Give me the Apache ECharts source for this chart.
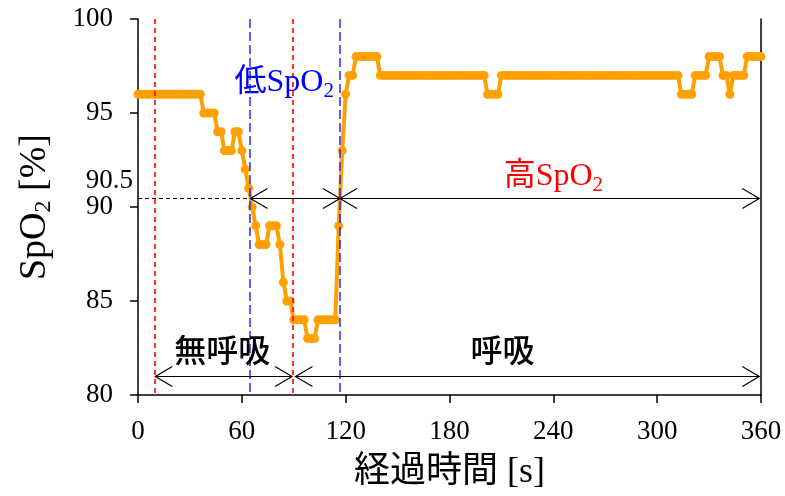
<!DOCTYPE html>
<html>
<head>
<meta charset="utf-8">
<script src="https://cdn.jsdelivr.net/npm/echarts@6/dist/echarts.min.js"></script>
<style>
  html, body { margin: 0; padding: 0; background: #ffffff; }
  #chart { width: 785px; height: 496px; }
</style>
</head>
<body>
<div id="chart"></div>
<script>
// Elapsed time of each SpO2 sample [s]
const timeSec = [
  0, 2, 4, 6, 8, 10, 12, 14, 16, 18,
  20, 22, 24, 26, 28, 30, 32, 34, 36, 38,
  40, 42, 44, 46, 48, 50, 52, 54, 56, 58,
  60, 62, 64, 66, 68, 70, 72, 74, 76, 78,
  80, 82, 84, 86, 88, 90, 92, 94, 96, 98,
  100, 102, 104, 106, 108, 110, 112, 114, 116, 118,
  120, 122, 124, 126, 128, 130, 132, 134, 136, 138,
  140, 142, 144, 146, 148, 150, 152, 154, 156, 158,
  160, 162, 164, 166, 168, 170, 172, 174, 176, 178,
  180, 182, 184, 186, 188, 190, 192, 194, 196, 198,
  200, 202, 204, 206, 208, 210, 212, 214, 216, 218,
  220, 222, 224, 226, 228, 230, 232, 234, 236, 238,
  240, 242, 244, 246, 248, 250, 252, 254, 256, 258,
  260, 262, 264, 266, 268, 270, 272, 274, 276, 278,
  280, 282, 284, 286, 288, 290, 292, 294, 296, 298,
  300, 302, 304, 306, 308, 310, 312, 314, 316, 318,
  320, 322, 324, 326, 328, 330, 332, 334, 336, 338,
  340, 342, 344, 346, 348, 350, 352, 354, 356, 358,
  360
];

// SpO2 readings [%]
const spo2 = [
  96, 96, 96, 96, 96, 96, 96, 96, 96, 96,
  96, 96, 96, 96, 96, 96, 96, 96, 96, 95,
  95, 95, 95, 94, 94, 93, 93, 93, 94, 94,
  93, 92, 91, 90, 89, 88, 88, 88, 89, 89,
  89, 88, 86, 85, 85, 84, 84, 84, 84, 83,
  83, 83, 84, 84, 84, 84, 84, 84, 89, 93,
  96, 97, 97, 98, 98, 98, 98, 98, 98, 98,
  97, 97, 97, 97, 97, 97, 97, 97, 97, 97,
  97, 97, 97, 97, 97, 97, 97, 97, 97, 97,
  97, 97, 97, 97, 97, 97, 97, 97, 97, 97,
  97, 96, 96, 96, 96, 97, 97, 97, 97, 97,
  97, 97, 97, 97, 97, 97, 97, 97, 97, 97,
  97, 97, 97, 97, 97, 97, 97, 97, 97, 97,
  97, 97, 97, 97, 97, 97, 97, 97, 97, 97,
  97, 97, 97, 97, 97, 97, 97, 97, 97, 97,
  97, 97, 97, 97, 97, 97, 97, 96, 96, 96,
  96, 97, 97, 97, 97, 98, 98, 98, 98, 97,
  97, 96, 97, 97, 97, 97, 98, 98, 98, 98,
  98
];

// Start / end of breath holding [s]
const apneaMarks = [10, 89.5];
// Times where SpO2 crosses the low threshold [s]
const lowSpO2Marks = [65, 116.7];
// Low-SpO2 threshold [%]
const threshold = 90.5;

// Double-headed span arrows: [from s, to s, at SpO2 %]
const spanFrom = [10, 91, 65, 116.7];
const spanTo = [89, 359, 116.7, 359];
const spanLevel = [81, 81, 90.5, 90.5];

// Phase captions and their anchor points
const phaseText = ['無呼吸', '呼吸'];
const phaseX = [48.7, 210.6];
const phaseY = [82.4, 82.4];

// SpO2 band captions: prefix, colour, anchor points
const bandPrefix = ['低', '高'];
const bandColor = ['#0000ff', '#ff0000'];
const bandX = [84.5, 240];
const bandY = [96.6, 91.6];

const xTicks = { min: 0, max: 360, step: 60 };
const yTicks = { min: 80, max: 100, step: 5 };

const SERIF = '"Liberation Serif", "Times New Roman", "Noto Sans CJK JP", serif';
const GOTHIC = '"Noto Sans CJK JP", "Noto Sans", sans-serif';
const ORANGE = '#ffa000';

const chart = echarts.init(document.getElementById('chart'), null, { renderer: 'canvas' });

const tracePoints = timeSec.map((t, i) => [t, spo2[i]]);

function crisp(v) { return Math.round(v) + 0.5; }

function vGuide(color, dash, width) {
  return function (params, api) {
    const t = api.value(0);
    const top = api.coord([t, yTicks.max]);
    const bot = api.coord([t, yTicks.min]);
    const x = Math.round(top[0]);
    return {
      type: 'line',
      shape: { x1: x, y1: top[1], x2: x, y2: bot[1] },
      style: { stroke: color, lineWidth: width, lineDash: dash, fill: 'none' }
    };
  };
}

const option = {
  animation: false,
  backgroundColor: '#ffffff',
  grid: { left: 138, right: 24, top: 19, bottom: 99 },
  xAxis: {
    type: 'value',
    min: xTicks.min,
    max: xTicks.max,
    interval: xTicks.step,
    name: '経過時間 [s]',
    nameLocation: 'middle',
    nameGap: 60,
    nameTextStyle: { fontFamily: SERIF, fontSize: 36, color: '#000' },
    axisLine: { show: true, lineStyle: { color: '#000', width: 1.5 } },
    axisTick: { show: true, inside: false, length: 8, lineStyle: { color: '#000', width: 1.5 } },
    axisLabel: { fontFamily: SERIF, fontSize: 27, color: '#000', margin: 23 },
    splitLine: { show: false }
  },
  yAxis: [
    {
      type: 'value',
      min: yTicks.min,
      max: yTicks.max,
      interval: yTicks.step,
      name: '{m|SpO}{s|2}{m| [%]}',
      nameLocation: 'middle',
      nameGap: 82,
      nameRotate: 90,
      nameTextStyle: {
        color: '#000',
        rich: {
          m: { fontFamily: SERIF, fontSize: 38, lineHeight: 42, color: '#000' },
          s: { fontFamily: SERIF, fontSize: 24, lineHeight: 22, verticalAlign: 'bottom', color: '#000' }
        }
      },
      axisLine: { show: true, lineStyle: { color: '#000', width: 1.5 } },
      axisTick: { show: true, inside: false, length: 8, lineStyle: { color: '#000', width: 1.5 } },
      axisLabel: { fontFamily: SERIF, fontSize: 27, color: '#000', margin: 25 },
      splitLine: { show: false }
    },
    {
      type: 'value',
      position: 'right',
      min: yTicks.min,
      max: yTicks.max,
      axisLine: { show: true, onZero: false, lineStyle: { color: '#000', width: 1.5 } },
      axisTick: { show: false },
      axisLabel: { show: false },
      splitLine: { show: false }
    }
  ],
  series: [
    {
      name: 'SpO2',
      type: 'line',
      data: tracePoints,
      symbol: 'circle',
      symbolSize: 9,
      showAllSymbol: true,
      lineStyle: { color: ORANGE, width: 4 },
      itemStyle: { color: ORANGE },
      z: 2,
      silent: true
    },
    {
      // threshold line from the axis to the first crossing
      type: 'custom',
      data: [[0, threshold]],
      z: 3,
      silent: true,
      renderItem: function (params, api) {
        const a = api.coord([xTicks.min, threshold]);
        const b = api.coord([lowSpO2Marks[0], threshold]);
        const y = crisp(a[1]);
        return {
          type: 'line',
          shape: { x1: a[0], y1: y, x2: b[0], y2: y },
          style: { stroke: '#000', lineWidth: 1, lineDash: [4, 3], fill: 'none' }
        };
      }
    },
    {
      type: 'custom',
      data: apneaMarks.map(t => [t, yTicks.min]),
      z: 4,
      silent: true,
      renderItem: vGuide('#ff0000', [5, 4], 1.6)
    },
    {
      type: 'custom',
      data: lowSpO2Marks.map(t => [t, yTicks.min]),
      z: 4,
      silent: true,
      renderItem: vGuide('#1a1aff', [9, 4], 1.4)
    },
    {
      type: 'custom',
      data: spanFrom.map((t, i) => [t, spanLevel[i]]),
      z: 5,
      silent: true,
      renderItem: function (params, api) {
        const i = params.dataIndex;
        const a = api.coord([spanFrom[i], spanLevel[i]]);
        const b = api.coord([spanTo[i], spanLevel[i]]);
        const y = crisp(a[1]);
        const L = 17, H = 10;
        const st = { stroke: '#000', lineWidth: 1.2, fill: 'none' };
        return {
          type: 'group',
          children: [
            { type: 'line', shape: { x1: a[0], y1: y, x2: b[0], y2: y }, style: st },
            { type: 'polyline', shape: { points: [[a[0] + L, y - H], [a[0], y], [a[0] + L, y + H]] }, style: st },
            { type: 'polyline', shape: { points: [[b[0] - L, y - H], [b[0], y], [b[0] - L, y + H]] }, style: st }
          ]
        };
      }
    },
    {
      type: 'custom',
      data: phaseX.map((x, i) => [x, phaseY[i]]),
      z: 6,
      silent: true,
      renderItem: function (params, api) {
        const i = params.dataIndex;
        const p = api.coord([phaseX[i], phaseY[i]]);
        return {
          type: 'text',
          x: p[0], y: p[1],
          style: {
            text: phaseText[i],
            fill: '#000',
            font: '500 32px ' + GOTHIC,
            align: 'center',
            verticalAlign: 'middle'
          }
        };
      }
    },
    {
      type: 'custom',
      data: bandX.map((x, i) => [x, bandY[i]]),
      z: 6,
      silent: true,
      renderItem: function (params, api) {
        const i = params.dataIndex;
        const p = api.coord([bandX[i], bandY[i]]);
        const c = bandColor[i];
        return {
          type: 'text',
          x: p[0], y: p[1],
          style: {
            text: '{m|' + bandPrefix[i] + 'SpO}{s|2}',
            align: 'center',
            verticalAlign: 'middle',
            rich: {
              m: { fontFamily: SERIF, fontSize: 32, lineHeight: 38, fill: c, color: c },
              s: { fontFamily: SERIF, fontSize: 21, lineHeight: 20, verticalAlign: 'bottom', fill: c, color: c }
            }
          }
        };
      }
    },
    {
      // extra axis label for the threshold value
      type: 'custom',
      data: [[0, threshold]],
      z: 6,
      silent: true,
      clip: false,
      renderItem: function (params, api) {
        const p = api.coord([xTicks.min, threshold]);
        return {
          type: 'text',
          x: p[0] - 5, y: p[1] - 17,
          style: {
            text: String(threshold),
            fill: '#000',
            font: '27px ' + SERIF,
            align: 'right',
            verticalAlign: 'middle'
          }
        };
      }
    }
  ]
};

chart.setOption(option);
</script>
</body>
</html>
